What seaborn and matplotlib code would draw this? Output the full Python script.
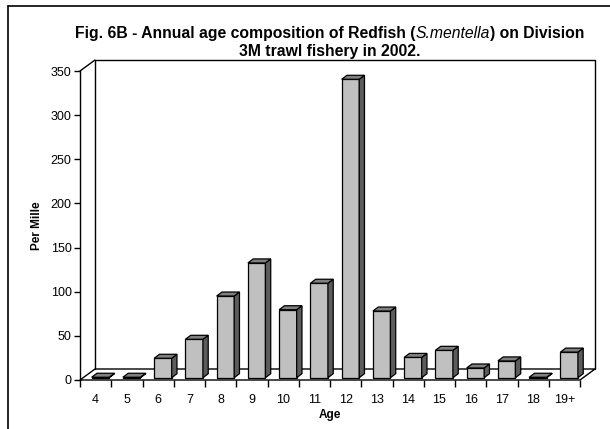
import numpy as np
import pandas as pd
import matplotlib
matplotlib.use("Agg")
import matplotlib.pyplot as plt
import seaborn as sns
from matplotlib.patches import Polygon
from matplotlib.lines import Line2D

# ---- data ----
ages = ["4", "5", "6", "7", "8", "9", "10", "11", "12", "13", "14", "15", "16", "17", "18", "19+"]
per_mille = [0.5, 0.5, 22, 43.5, 92.5, 130, 77, 107, 338, 75.5, 23, 31, 11, 19, 0.5, 29]
y_ticks = [0, 50, 100, 150, 200, 250, 300, 350]
title_parts = ["Fig. 6B - Annual age composition of Redfish (", "S.mentella", ") on Division"]
title_line2 = "3M trawl fishery in 2002."

sns.set_theme(style="white")
plt.rcParams['font.family'] = ['Liberation Sans', 'DejaVu Sans']

W, H = 610, 429
fig = plt.figure(figsize=(W / 100, H / 100), dpi=100)
fig.patch.set_facecolor("white")

# front plane of the 3-D box: x 80..580 px, y (from top) 71..380 px
ax_l, ax_r, ax_t, ax_b = 80, 580, 71, 380
ax = fig.add_axes([ax_l / W, (H - ax_b) / H, (ax_r - ax_l) / W, (ax_b - ax_t) / H])
ax.set_facecolor("none")

df = pd.DataFrame({"Age": ages, "PerMille": per_mille})
sns.barplot(data=df, x="Age", y="PerMille", color="#C0C0C0", saturation=1,
            width=0.56, edgecolor="black", linewidth=0.9, ax=ax, zorder=3)

ax.set_xlim(-0.5, len(ages) - 0.5)
ax.set_ylim(0, 350)

# pixel -> data conversions
px_x = (ax_r - ax_l) / len(ages)
px_y = (ax_b - ax_t) / 350.0
DX, DY = 15 / px_x, 11 / px_y           # depth of box
BX, BY = 4.8 / px_x, 2.3 / px_y          # bar front offset in depth
bdx, bdy = 5.3 / px_x, 4.0 / px_y        # bar depth

x0a, x1a = -0.5, len(ages) - 0.5
# floor
ax.add_patch(Polygon([(x0a, 0), (x1a, 0), (x1a + DX, DY), (x0a + DX, DY)],
                     closed=True, facecolor="white", edgecolor="black", lw=1.0,
                     clip_on=False, zorder=1))
# back wall outline
ax.add_line(Line2D([x0a + DX, x0a + DX, x1a + DX, x1a + DX],
                   [DY, 350 + DY, 350 + DY, DY], color="black", lw=1.0,
                   clip_on=False, zorder=1))
# left wall top edge
ax.add_line(Line2D([x0a, x0a + DX], [350, 350 + DY], color="black", lw=1.0,
                   clip_on=False, zorder=1))

# 3-D faces for bars
for p in ax.patches[:]:
    if not hasattr(p, "get_height") or p.get_width() > 5:
        continue
    x0 = p.get_x() + BX
    w = p.get_width()
    h = p.get_height()
    y0 = BY
    p.set_x(x0)
    p.set_y(y0)
    top = Polygon([(x0, y0 + h), (x0 + w, y0 + h), (x0 + w + bdx, y0 + h + bdy), (x0 + bdx, y0 + h + bdy)],
                  closed=True, facecolor="#808080", edgecolor="black", lw=0.9, zorder=3, clip_on=False)
    side = Polygon([(x0 + w, y0), (x0 + w + bdx, y0 + bdy), (x0 + w + bdx, y0 + h + bdy), (x0 + w, y0 + h)],
                   closed=True, facecolor="#5c5c5c", edgecolor="black", lw=0.9, zorder=3, clip_on=False)
    ax.add_patch(side)
    ax.add_patch(top)

# spines / ticks
for s in ["top", "right", "bottom"]:
    ax.spines[s].set_visible(False)
ax.spines["left"].set_color("black")
ax.spines["left"].set_linewidth(1.0)
ax.spines["left"].set_zorder(4)

ax.set_yticks(y_ticks)
ax.set_yticklabels([str(v) for v in y_ticks])
ax.set_xticks(range(len(ages)))
ax.set_xticklabels(ages)
ax.set_xticks(np.arange(-0.5, len(ages), 1.0), minor=True)
ax.tick_params(axis="y", which="major", left=True, length=4, width=1, color="black",
               direction="out", labelsize=9, labelcolor="black", pad=2)
ax.tick_params(axis="x", which="major", bottom=True, length=0, labelsize=9,
               labelcolor="black", pad=10)
ax.tick_params(axis="x", which="minor", bottom=True, length=5, width=1, color="black",
               direction="out")

ax.set_xlabel("Age", fontsize=8.5, fontweight="bold", color="black")
ax.set_ylabel("Per Mille", fontsize=8.5, fontweight="bold", color="black")
ax.xaxis.set_label_coords(0.5, -0.095)
ax.yaxis.set_label_coords(-0.074, 0.5)

# title (bold with italic species name), centred over the plot
renderer = fig.canvas.get_renderer()
fs_title = 11.3
styles = [dict(fontweight="bold"), dict(fontstyle="italic", fontweight="normal"), dict(fontweight="bold")]
pieces = [fig.text(0, 0, t, fontsize=fs_title, color="black", va="baseline", ha="left", **st)
          for t, st in zip(title_parts, styles)]
widths = [pc.get_window_extent(renderer).width for pc in pieces]
cx = (ax_l + ax_r) / 2
start = cx - sum(widths) / 2
base1 = 38
xx = start
for pc, wd in zip(pieces, widths):
    pc.set_position((xx / W, (H - base1) / H))
    xx += wd
fig.text(cx / W, (H - 56) / H, title_line2, fontsize=fs_title, fontweight="bold",
         color="black", ha="center", va="baseline")

# outer chart frame (clipped at right and bottom in the reference)
fig.add_artist(Line2D([8 / W, 8 / W], [0, (H - 6) / H], color="black", lw=1.2, transform=fig.transFigure))
fig.add_artist(Line2D([8 / W, 1], [(H - 6) / H, (H - 6) / H], color="black", lw=1.2, transform=fig.transFigure))

fig.savefig("out.png", dpi=100, facecolor="white")
